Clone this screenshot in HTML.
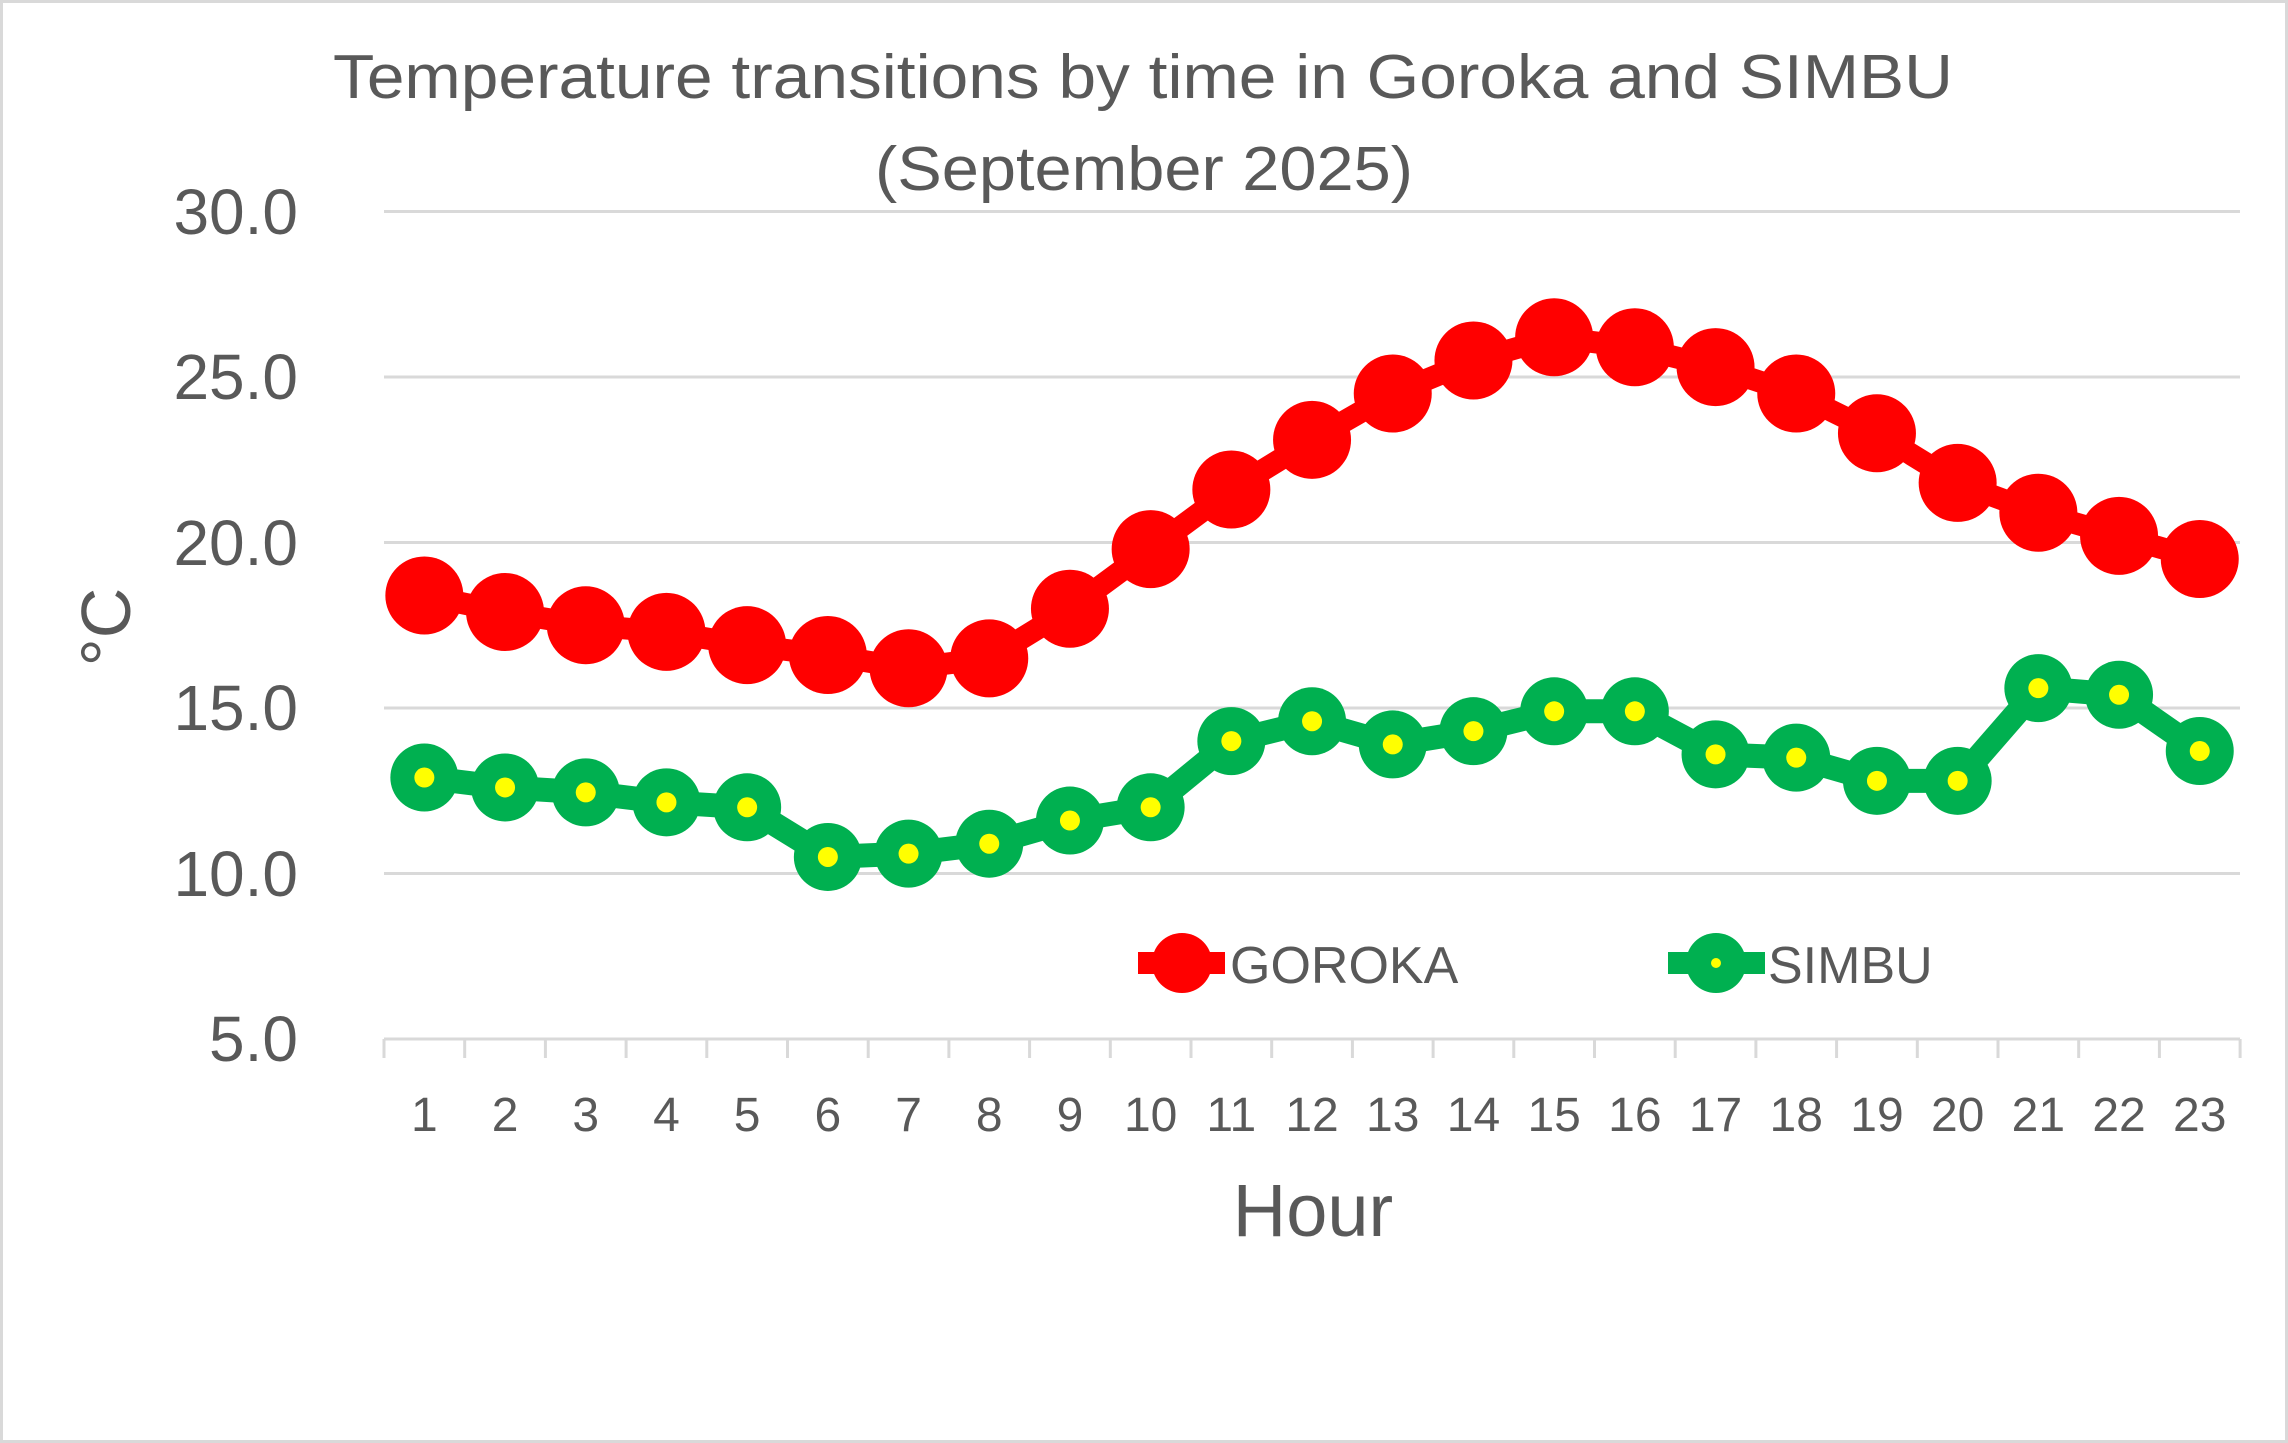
<!DOCTYPE html>
<html><head><meta charset="utf-8"><style>html,body{margin:0;padding:0;background:#fff}svg{display:block}</style></head>
<body>
<svg width="2288" height="1443" viewBox="0 0 2288 1443" xmlns="http://www.w3.org/2000/svg" font-family="'Liberation Sans', sans-serif" fill="#595959">
<rect x="1.5" y="1.5" width="2285" height="1440" fill="#fff" stroke="#d9d9d9" stroke-width="3"/>
<text x="333" y="98" font-size="62" textLength="1620" lengthAdjust="spacingAndGlyphs">Temperature transitions by time in Goroka and SIMBU</text>
<text x="875" y="190" font-size="62" textLength="538" lengthAdjust="spacingAndGlyphs">(September 2025)</text>
<g stroke="#d9d9d9" stroke-width="3">
<line x1="384" y1="211.5" x2="2240" y2="211.5"/>
<line x1="384" y1="377" x2="2240" y2="377"/>
<line x1="384" y1="542.5" x2="2240" y2="542.5"/>
<line x1="384" y1="708" x2="2240" y2="708"/>
<line x1="384" y1="873.5" x2="2240" y2="873.5"/>
<line x1="384" y1="1039" x2="2240" y2="1039"/>
</g>
<g id="ticks" stroke="#d9d9d9" stroke-width="3"></g>
<g font-size="64" text-anchor="end">
<text x="298" y="234">30.0</text><text x="298" y="399">25.0</text><text x="298" y="565">20.0</text><text x="298" y="730">15.0</text><text x="298" y="896">10.0</text><text x="298" y="1061">5.0</text>
</g>
<g id="xl" font-size="48" text-anchor="middle"></g>
<text x="1313" y="1236" font-size="74" text-anchor="middle">Hour</text>
<text transform="translate(130,627) rotate(-90)" font-size="70" text-anchor="middle">°C</text>
<g id="series"></g>
<g>
<line x1="1138" y1="963" x2="1225" y2="963" stroke="#ff0000" stroke-width="22"/>
<circle cx="1182" cy="963" r="30" fill="#ff0000"/>
<text x="1230" y="983" font-size="52">GOROKA</text>
<line x1="1668" y1="963" x2="1765" y2="963" stroke="#00b050" stroke-width="22"/>
<circle cx="1716" cy="963" r="30" fill="#00b050"/>
<circle cx="1716" cy="963" r="5" fill="#ffff00"/>
<text x="1768" y="983" font-size="52">SIMBU</text>
</g>
</svg>
<script>
const NS="http://www.w3.org/2000/svg";
const X=i=>384+80.7*(i+0.5), Y=v=>1039-(v-5)*33.1;
const g=[18.4,17.9,17.5,17.3,16.9,16.6,16.2,16.5,18.0,19.8,21.6,23.1,24.5,25.5,26.2,25.9,25.3,24.5,23.3,21.8,20.9,20.2,19.5];
const s=[12.9,12.6,12.45,12.15,12.0,10.5,10.6,10.9,11.6,12.0,14.0,14.6,13.9,14.3,14.9,14.9,13.6,13.5,12.8,12.8,15.6,15.4,13.7];
const mk=(t,a,p)=>{const e=document.createElementNS(NS,t);for(const k in a)e.setAttribute(k,a[k]);p.appendChild(e);return e;};
const tk=document.getElementById('ticks'), xl=document.getElementById('xl'), se=document.getElementById('series');
for(let i=0;i<=23;i++){const x=384+80.7*i;mk('line',{x1:x,y1:1039,x2:x,y2:1058},tk);}
for(let i=0;i<23;i++){const t=mk('text',{x:X(i),y:1131},xl);t.textContent=i+1;}
mk('polyline',{points:g.map((v,i)=>X(i)+','+Y(v)).join(' '),fill:'none',stroke:'#ff0000','stroke-width':22,'stroke-linejoin':'round'},se);
g.forEach((v,i)=>mk('circle',{cx:X(i),cy:Y(v),r:39,fill:'#ff0000'},se));
mk('polyline',{points:s.map((v,i)=>X(i)+','+Y(v)).join(' '),fill:'none',stroke:'#00b050','stroke-width':24,'stroke-linejoin':'round'},se);
s.forEach((v,i)=>{mk('circle',{cx:X(i),cy:Y(v),r:34,fill:'#00b050'},se);mk('circle',{cx:X(i),cy:Y(v),r:10,fill:'#ffff00'},se);});
</script>
</body></html>
